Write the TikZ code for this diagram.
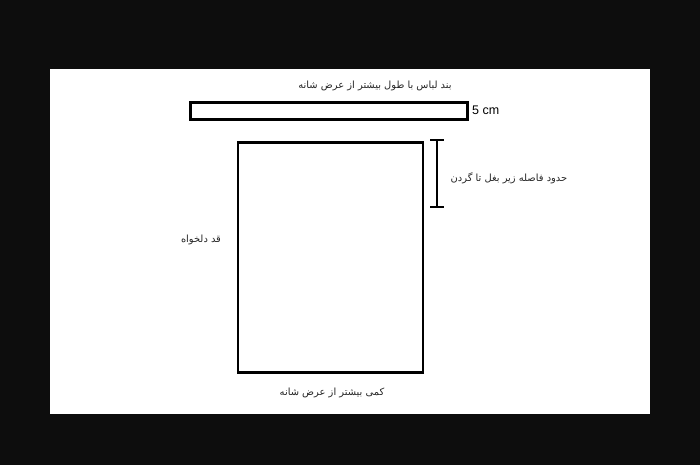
\documentclass[tikz,border=0pt]{standalone}
\usepackage{fontspec}
\setmainfont{Liberation Sans}
\newfontfamily\arabicfont[Script=Arabic]{DejaVu Sans}
\TeXXeTstate=1
\begin{document}
\begin{tikzpicture}[x=1pt,y=-1pt,
  fa/.style={font=\arabicfont\fontsize{9.9}{12}\selectfont, inner sep=0pt, text=black!85},
  box/.style={draw=black, line width=2.9pt},
  bar/.style={draw=black, line width=2.6pt}]
\fill[black!95] (0,0) rectangle (700,465);
\useasboundingbox (0,0) rectangle (700,465);
\fill[white] (50,69) rectangle (650,414);
\node[box, minimum width=277pt, minimum height=17pt, inner sep=0pt, anchor=north west] (band) at (189,101) {};
\node[box, minimum width=185pt, minimum height=230pt, inner sep=0pt, anchor=north west] (body) at (236.5,141) {};
\node[fa] (toplabel) at (375,86) {\beginR بند لباس با طول بیشتر از عرض شانه\endR};
\node[font=\fontsize{12.5}{14}\selectfont, inner sep=0pt, anchor=west] (cm) at (472,110) {5 cm};
\coordinate (itop) at (437,140);
\coordinate (ibot) at (437,207);
\draw[bar] (itop) -- (ibot);
\draw[bar] ([xshift=-7pt]itop) -- ([xshift=7pt]itop);
\draw[bar] ([xshift=-7pt]ibot) -- ([xshift=7pt]ibot);
\node[fa] (side) at (509,178) {\beginR حدود فاصله زیر بغل تا گردن\endR};
\node[fa] (left) at (201,240) {\beginR قد دلخواه\endR};
\node[fa] (bottom) at (332,393) {\beginR کمی بیشتر از عرض شانه\endR};
\end{tikzpicture}
\end{document}
